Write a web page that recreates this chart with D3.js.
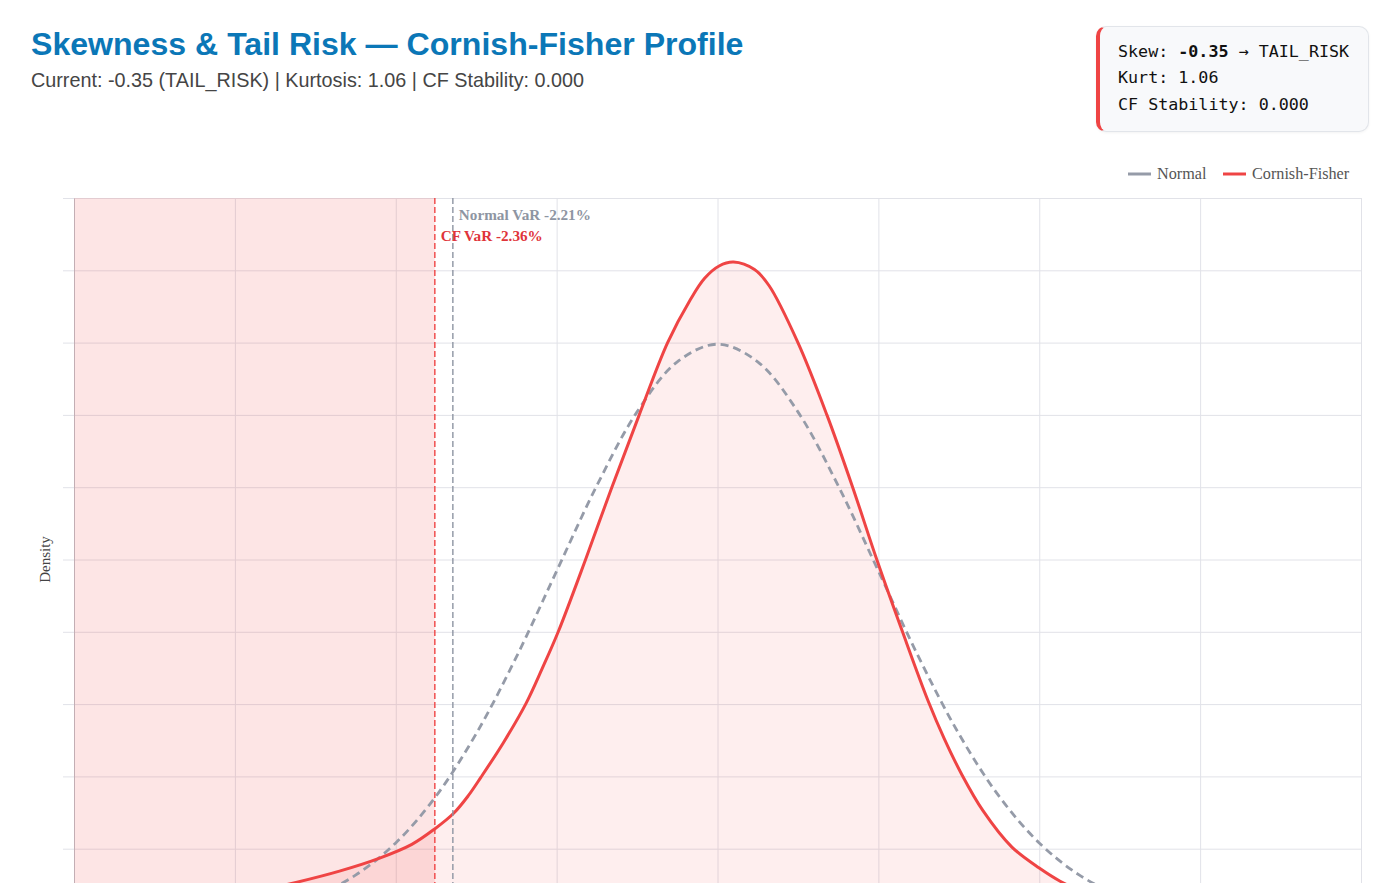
<!DOCTYPE html>
<html lang="en">

<head>
  <meta charset="UTF-8">
  <title>Skewness & Tail Risk</title>
  <script src="https://cdn.jsdelivr.net/npm/d3@7.8.5/dist/d3.min.js"></script>
  <style>
    html, body {
      margin: 0;
      background: #fff;
    }
    #frame {
      position: relative;
      width: 1400px;
      height: 883px;
      overflow: hidden;
    }
    #chart {
      position: absolute;
      left: 0;
      top: 0;
    }
    .stats {
      position: absolute;
      left: 1096px;
      top: 26px;
      width: 273px;
      height: 106px;
      box-sizing: border-box;
      padding: 11px 0 0 18px;
      background: #f8f9fb;
      border: 1px solid #e2e5ea;
      border-left: 4px solid #ef4444;
      border-radius: 10px;
      box-shadow: 0 1px 3px rgba(0, 0, 0, 0.05);
      font-family: "DejaVu Sans Mono", monospace;
      font-size: 16.7px;
      line-height: 26.4px;
      color: #111;
      white-space: pre;
    }
  </style>
</head>

<body>
  <div id="frame">
    <svg id="chart"></svg>
    <div class="stats" id="stats"></div>
  </div>
  <script>
    // headline numbers
    const skew = -0.35
    const kurt = 1.06
    const cfStability = 0.000
    const regime = 'TAIL_RISK'

    // normal density, x in standard deviations
    const sigmaGrid = [-4, -3.75, -3.5, -3.25, -3, -2.75, -2.5, -2.25, -2, -1.75, -1.5, -1.25, -1, -0.75, -0.5, -0.25,
      0, 0.25, 0.5, 0.75, 1, 1.25, 1.5, 1.75, 2, 2.25, 2.5, 2.75, 3, 3.25, 3.5, 3.75, 4]
    const normalDensity = [0.0001, 0.0004, 0.0009, 0.0020, 0.0044, 0.0091, 0.0175, 0.0317, 0.0540, 0.0863, 0.1295, 0.1826, 0.2420, 0.3011, 0.3521, 0.3867,
      0.3989, 0.3867, 0.3521, 0.3011, 0.2420, 0.1826, 0.1295, 0.0863, 0.0540, 0.0317, 0.0175, 0.0091, 0.0044, 0.0020, 0.0009, 0.0004, 0.0001]

    // Cornish-Fisher density
    const cfSigma = [-4.0, -3.5, -3.0, -2.62, -2.35, -2.1, -1.9, -1.76, -1.64, -1.55, -1.47, -1.33, -1.19, -1.09, -0.99, -0.82, -0.66, -0.49, -0.31,
      -0.17, -0.08, 0.01, 0.10, 0.23, 0.32, 0.50, 0.68, 0.84, 0.99, 1.15, 1.31, 1.41, 1.52, 1.65, 1.83, 2.0, 2.13, 2.35, 2.6, 3.0, 3.5, 4.0]
    const cfDensity = [0.005, 0.0095, 0.0175, 0.0267, 0.0345, 0.0435, 0.053, 0.0635, 0.0745, 0.0865, 0.0995, 0.1235, 0.1505, 0.1745, 0.200, 0.250, 0.299, 0.349, 0.400,
      0.4295, 0.4445, 0.4530, 0.4557, 0.4505, 0.4395, 0.400, 0.350, 0.300, 0.250, 0.200, 0.152, 0.126, 0.101, 0.0763, 0.0511, 0.0366, 0.0275, 0.0165, 0.009, 0.0038, 0.0013, 0.0003]

    // 95% VaR markers
    const varNames = ['Normal VaR', 'CF VaR']
    const varPct = [-2.21, -2.36]
    const varSigma = [-1.645, -1.757]

    const xTicks = [-4, -3, -2, -1, 0, 1, 2, 3, 4]
    const yTicks = [0, 0.05, 0.1, 0.15, 0.2, 0.25, 0.3, 0.35, 0.4, 0.45, 0.5]

    const seriesNames = ['Normal', 'Cornish-Fisher']
    const seriesColors = ['#959ba8', '#ef4444']

    const width = 1400
    const height = 1000
    const margin = { left: 74, right: 39, top: 198, bottom: 79 }
    const innerW = width - margin.left - margin.right
    const innerH = height - margin.top - margin.bottom
    const serif = '"Liberation Serif", "Times New Roman", serif'
    const sans = '"Liberation Sans", Arial, Helvetica, sans-serif'

    const svg = d3.select('#chart').attr('width', width).attr('height', height)

    // 标题
    svg.append('text')
      .attr('x', 31).attr('y', 55)
      .attr('font-family', sans).attr('font-size', 32.1).attr('font-weight', 'bold')
      .attr('fill', '#0b77b7')
      .text('Skewness & Tail Risk — Cornish-Fisher Profile')
    svg.append('text')
      .attr('x', 31).attr('y', 87)
      .attr('font-family', sans).attr('font-size', 19.8)
      .attr('fill', '#454545')
      .text(`Current: ${skew.toFixed(2)} (${regime}) | Kurtosis: ${kurt.toFixed(2)} | CF Stability: ${cfStability.toFixed(3)}`)

    // stats card
    const stats = d3.select('#stats')
    const l1 = stats.append('div')
    l1.append('span').text('Skew: ')
    l1.append('b').text(skew.toFixed(2))
    l1.append('span').text(' → ' + regime)
    stats.append('div').text('Kurt: ' + kurt.toFixed(2))
    stats.append('div').text('CF Stability: ' + cfStability.toFixed(3))

    const x = d3.scaleLinear().domain([-4, 4]).range([margin.left, width - margin.right])
    const y = d3.scaleLinear().domain([0, 0.5]).range([height - margin.bottom, margin.top])

    /* 网格 */
    const gridY = svg.append('g')
      .attr('transform', `translate(${margin.left - 11},0)`)
      .call(d3.axisLeft(y).tickValues(yTicks).tickSize(-(innerW + 11)).tickFormat(''))
    gridY.select('.domain').remove()
    gridY.selectAll('line').attr('stroke', '#e1e2e8')

    const gridX = svg.append('g')
      .attr('transform', `translate(0,${height - margin.bottom})`)
      .call(d3.axisBottom(x).tickValues(xTicks).tickSize(-innerH).tickFormat(''))
    gridX.select('.domain').remove()
    gridX.selectAll('line').attr('stroke', '#e1e2e8')

    // y axis line
    svg.append('g')
      .attr('transform', `translate(${margin.left},0)`)
      .call(d3.axisLeft(y).tickValues([]).tickSizeOuter(0))
      .select('.domain').attr('stroke', '#bcbfc6')

    /* tail region left of CF VaR */
    svg.append('rect')
      .attr('x', x(-4)).attr('y', y(0.5))
      .attr('width', x(varSigma[1]) - x(-4))
      .attr('height', y(0) - y(0.5))
      .attr('fill', '#ef4444').attr('fill-opacity', 0.14)

    const cfPts = cfSigma.map((s, i) => [s, cfDensity[i]])
    const normPts = sigmaGrid.map((s, i) => [s, normalDensity[i]])

    const curve = d3.curveCatmullRom.alpha(0.5)
    const area = d3.area()
      .x(d => x(d[0])).y0(y(0)).y1(d => y(d[1]))
      .curve(curve)
    const line = d3.line()
      .x(d => x(d[0])).y(d => y(d[1]))
      .curve(curve)

    svg.append('path').datum(cfPts)
      .attr('d', area)
      .attr('fill', '#ef4444').attr('fill-opacity', 0.09)

    svg.append('path').datum(normPts)
      .attr('d', line)
      .attr('fill', 'none')
      .attr('stroke', seriesColors[0])
      .attr('stroke-width', 2.8)
      .attr('stroke-dasharray', '8,5')

    svg.append('path').datum(cfPts)
      .attr('d', line)
      .attr('fill', 'none')
      .attr('stroke', seriesColors[1])
      .attr('stroke-width', 3)

    /* VaR lines */
    const varColors = ['#8e95a2', '#e0343a']
    varSigma.forEach((v, i) => {
      svg.append('line')
        .attr('x1', x(v)).attr('x2', x(v))
        .attr('y1', y(0.5)).attr('y2', y(0))
        .attr('stroke', i === 0 ? '#8e95a2' : '#ef4444')
        .attr('stroke-width', 1.4)
        .attr('stroke-dasharray', '6,3')
      svg.append('text')
        .attr('x', x(v) + 6)
        .attr('y', y(0.5) + 22 + i * 21)
        .attr('font-family', serif).attr('font-size', 15.2).attr('font-weight', 'bold')
        .attr('fill', varColors[i])
        .text(`${varNames[i]} ${varPct[i].toFixed(2)}%`)
    })

    // y title
    svg.append('text')
      .attr('transform', `translate(50,${(y(0) + y(0.5)) / 2}) rotate(-90)`)
      .attr('text-anchor', 'middle')
      .attr('font-family', serif).attr('font-size', 15)
      .attr('fill', '#444')
      .text('Density')

    /* legend */
    const legendX = [1128, 1223]
    const legend = svg.append('g')
    seriesNames.forEach((name, i) => {
      legend.append('line')
        .attr('x1', legendX[i]).attr('x2', legendX[i] + 23)
        .attr('y1', 174).attr('y2', 174)
        .attr('stroke', seriesColors[i]).attr('stroke-width', 3)
      legend.append('text')
        .attr('x', legendX[i] + 29).attr('y', 179)
        .attr('font-family', serif).attr('font-size', 16.2)
        .attr('fill', '#555')
        .text(name)
    })
  </script>
</body>

</html>
